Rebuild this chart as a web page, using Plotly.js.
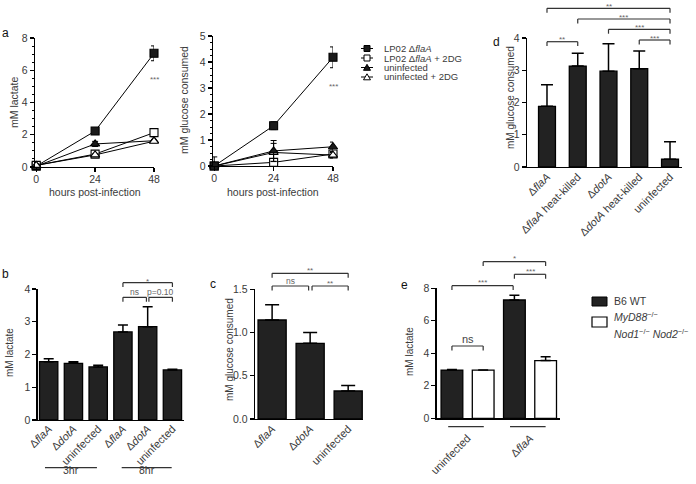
<!DOCTYPE html>
<html><head><meta charset="utf-8">
<script src="https://cdn.plot.ly/plotly-3.0.1.min.js"></script>
<style>body{margin:0;background:#fff}#chart{width:696px;height:484px}</style>
</head><body><div id="chart"></div>
<script>
const W = 696, H = 484;
const FONT = '"Liberation Sans", Arial, Helvetica, sans-serif';
const TXT = '#3a3a3a';

// ---------- Panel a data ----------
const hours = [0, 24, 48];
const hourTicks = [0, 24, 48];
const lacFla = [0.05, 2.23, 7.05];        const lacFlaErr = [0.05, 0.1, 0.46];
const lacFla2DG = [0.1, 0.8, 2.13];       const lacFla2DGErr = [0.1, 0.08, 0.25];
const lacUninf = [0.05, 1.43, 1.63];      const lacUninfErr = [0.05, 0.16, 0.06];
const lacUninf2DG = [0.1, 0.75, 1.6];     const lacUninf2DGErr = [0.1, 0.06, 0.06];
const gluFla = [0, 1.55, 4.18];           const gluFlaErr = [0.05, 0.15, 0.4];
const gluFla2DG = [0, 0.14, 0.46];        const gluFla2DGErr = [0.35, 0.08, 0.15];
const gluUninf = [0, 0.58, 0.74];         const gluUninfErr = [0.05, 0.4, 0.18];
const gluUninf2DG = [0, 0.52, 0.42];      const gluUninf2DGErr = [0.05, 0.35, 0.1];
const seriesNames = ['LP02 Δ<i>flaA</i>', 'LP02 Δ<i>flaA</i> + 2DG', 'uninfected', 'uninfected + 2DG'];

// ---------- Panel b data ----------
const bCats = ['flaA 3hr', 'dotA 3hr', 'uninfected 3hr', 'flaA 8hr', 'dotA 8hr', 'uninfected 8hr'];
const bLabels = ['Δ<i>flaA</i>', 'Δ<i>dotA</i>', 'uninfected', 'Δ<i>flaA</i>', 'Δ<i>dotA</i>', 'uninfected'];
const bVals = [1.78, 1.73, 1.62, 2.69, 2.85, 1.53];
const bErr = [0.09, 0.05, 0.05, 0.21, 0.61, 0.02];
const bGroups = ['3hr', '8hr'];

// ---------- Panel c data ----------
const cCats = ['flaA', 'dotA', 'uninfected'];
const cLabels = ['Δ<i>flaA</i>', 'Δ<i>dotA</i>', 'uninfected'];
const cVals = [1.145, 0.875, 0.324];
const cErr = [0.175, 0.125, 0.062];

// ---------- Panel d data ----------
const dCats = ['flaA', 'flaA hk', 'dotA', 'dotA hk', 'uninfected'];
const dLabels = ['Δ<i>flaA</i>', 'Δ<i>flaA</i> heat-killed', 'Δ<i>dotA</i>', 'Δ<i>dotA</i> heat-killed', 'uninfected'];
const dVals = [1.88, 3.13, 2.97, 3.05, 0.24];
const dErr = [0.67, 0.4, 0.85, 0.55, 0.54];

// ---------- Panel e data ----------
const eCats = ['uninfected', 'flaA'];
const eLabels = ['uninfected', 'Δ<i>flaA</i>'];
const eWT = [2.97, 7.28];   const eWTErr = [0.03, 0.29];
const eKO = [2.97, 3.55];   const eKOErr = [0.0, 0.24];
const eNames = ['B6 WT', '<i>MyD88</i><sup>−/−</sup>', '<i>Nod1</i><sup>−/−</sup> <i>Nod2</i><sup>−/−</sup>'];

// ---------- helpers ----------
const PX = x => x / W;
const PY = y => 1 - y / H;
const zeros = a => a.map(() => 0);

function axis(dpx, range, extra) {
  return Object.assign({
    domain: [PX(dpx[0]), PX(dpx[1])], range: range,
    showline: true, linecolor: '#000', linewidth: 1.3,
    ticks: 'outside', ticklen: 4, tickwidth: 1.3, tickcolor: '#000',
    showgrid: false, zeroline: false, fixedrange: true,
    tickfont: {family: FONT, size: 10.5, color: TXT}
  }, extra);
}
function yaxis(dpx, range, extra) {
  return Object.assign({
    domain: [PY(dpx[1]), PY(dpx[0])], range: range,
    showline: true, linecolor: '#000', linewidth: 1.3,
    ticks: 'outside', ticklen: 4, tickwidth: 1.3, tickcolor: '#000',
    showgrid: false, zeroline: false, fixedrange: true,
    tickfont: {family: FONT, size: 10.5, color: TXT}
  }, extra);
}
function lineTrace(xa, ya, y, err, sym, fill) {
  return {
    type: 'scatter', mode: 'lines+markers', x: hours, y: y, xaxis: xa, yaxis: ya,
    cliponaxis: false,
    line: {color: '#000', width: 1},
    marker: {symbol: sym, size: 8, color: fill, line: {color: '#000', width: 1.1}},
    error_y: {type: 'data', array: err, symmetric: true, color: '#000', thickness: 1, width: 3}
  };
}
function barTrace(xa, ya, cats, vals, err, width, cap, fill, offset) {
  const t = {
    type: 'bar', x: cats, y: vals, xaxis: xa, yaxis: ya, width: width,
    marker: {color: fill, line: {color: '#000', width: 1.3}},
    error_y: {type: 'data', array: err, arrayminus: zeros(err), symmetric: false,
              color: '#000', thickness: 1.5, width: cap}
  };
  if (offset !== undefined) t.offset = offset;
  return t;
}

const traces = [
  lineTrace('x', 'y', lacFla, lacFlaErr, 'square', '#1a1a1a'),
  lineTrace('x', 'y', lacFla2DG, lacFla2DGErr, 'square', '#fff'),
  lineTrace('x', 'y', lacUninf, lacUninfErr, 'triangle-up', '#1a1a1a'),
  lineTrace('x', 'y', lacUninf2DG, lacUninf2DGErr, 'triangle-up', '#fff'),
  lineTrace('x2', 'y2', gluFla2DG, gluFla2DGErr, 'square', '#fff'),
  lineTrace('x2', 'y2', gluUninf2DG, gluUninf2DGErr, 'triangle-up', '#fff'),
  lineTrace('x2', 'y2', gluUninf, gluUninfErr, 'triangle-up', '#1a1a1a'),
  lineTrace('x2', 'y2', gluFla, gluFlaErr, 'square', '#1a1a1a'),
  barTrace('x3', 'y3', dCats, dVals, dErr, 0.55, 6, '#222'),
  barTrace('x4', 'y4', bCats, bVals, bErr, 0.74, 5, '#222'),
  barTrace('x5', 'y5', cCats, cVals, cErr, 0.74, 7, '#222'),
  barTrace('x6', 'y6', eCats, eWT, eWTErr, 0.348, 5, '#222', -0.424),
  barTrace('x6', 'y6', eCats, eKO, eKOErr, 0.348, 5, '#fff', 0.076)
];

const catX = (cats, labels, range, dpx, standoff, fs) => axis(dpx, range, {
  type: 'category', ticks: '', ticklen: 0, tickangle: -45,
  tickmode: 'array', tickvals: cats, ticktext: labels,
  ticklabelstandoff: standoff,
  tickfont: {family: FONT, size: fs || 11, color: TXT}
});
const yfont = {family: FONT, size: 10.5, color: TXT};

const layout = {
  width: W, height: H, margin: {l: 0, r: 0, t: 0, b: 0},
  paper_bgcolor: '#fff', plot_bgcolor: 'rgba(0,0,0,0)',
  showlegend: false, barmode: 'group',
  font: {family: FONT, color: TXT},
  // a1
  xaxis: axis([35, 154], [-0.5, 48], {anchor: 'y', tickvals: hourTicks, ticklabelstandoff: -2}),
  yaxis: yaxis([38, 167], [0, 8], {anchor: 'x', dtick: 2,
    minor: {ticks: 'outside', ticklen: 2, dtick: 0.5, tickcolor: '#000', tickwidth: 1}}),
  // a2
  xaxis2: axis([213, 333], [-0.5, 48], {anchor: 'y2', tickvals: hourTicks, ticklabelstandoff: -2}),
  yaxis2: yaxis([36, 166], [0, 5], {anchor: 'x2', dtick: 1,
    minor: {ticks: 'outside', ticklen: 2, dtick: 0.25, tickcolor: '#000', tickwidth: 1}}),
  // d
  xaxis3: catX(dCats, dLabels, [-0.65, 4.39], [527, 682], -2, 11),
  yaxis3: yaxis([38, 167], [0, 4], {anchor: 'x3', dtick: 1, tickfont: yfont}),
  // b
  xaxis4: catX(bCats, bLabels, [-0.444, 5.48], [37.7, 184.3], -3, 11),
  yaxis4: yaxis([289, 420], [0, 4], {anchor: 'x4', dtick: 1, tickfont: yfont}),
  // c
  xaxis5: catX(cCats, cLabels, [-0.45, 2.39], [255, 363], -2, 11),
  yaxis5: yaxis([289.3, 419], [0, 1.5], {anchor: 'x5', dtick: 0.5, tickformat: '.1f', tickfont: yfont}),
  // e
  xaxis6: catX(eCats, eLabels, [-0.494, 1.48], [436.7, 560], 8, 11),
  yaxis6: yaxis([288.3, 418.3], [0, 8], {anchor: 'x6', dtick: 2, tickfont: yfont}),
  shapes: [], annotations: []
};
layout.xaxis3.anchor = 'y3'; layout.xaxis4.anchor = 'y4'; layout.xaxis5.anchor = 'y5'; layout.xaxis6.anchor = 'y6';

const S = layout.shapes, A = layout.annotations;
function text(x, y, t, opt) {
  A.push(Object.assign({xref: 'paper', yref: 'paper', x: PX(x), y: PY(y), text: t, showarrow: false,
    xanchor: 'center', yanchor: 'middle', font: {family: FONT, size: 10, color: TXT}}, opt || {}));
}
function bracket(xref, xa, xb, y, label, fs, labelY) {
  const ln = (x0, y0, x1, y1) => S.push({type: 'line', xref: xref, yref: 'paper', x0: x0, x1: x1,
    y0: PY(y0), y1: PY(y1), line: {color: '#333', width: 1.2}});
  ln(xa, y, xb, y); ln(xa, y, xa, y + 4.4); ln(xb, y, xb, y + 4.4);
  const isStar = label.indexOf('*') >= 0;
  A.push({xref: xref, yref: 'paper', x: (xa + xb) / 2, y: PY(labelY + (isStar ? 2.5 : 0)), text: label,
    showarrow: false, xanchor: 'center', yanchor: 'middle',
    font: {family: FONT, size: fs || 8, color: '#666'}});
}

// panel letters
const LET = {family: FONT, size: 12, color: '#111'};
text(5, 33, 'a', {font: LET});
text(496, 42, 'd', {font: LET});
text(5, 274, 'b', {font: LET});
text(213, 284, 'c', {font: LET});
text(404, 285, 'e', {font: LET});

// axis titles
const T1 = {family: FONT, size: 10.5, color: TXT};
const T2 = {family: FONT, size: 10, color: TXT};
text(14, 102, 'mM lactate', {textangle: -90, font: T1});
text(95, 192, 'hours post-infection', {font: T1});
text(184, 100, 'mM glucose consumed', {textangle: -90, font: T1});
text(273, 192, 'hours post-infection', {font: T1});
text(510, 98, 'mM glucose consumed', {textangle: -90, font: T2});
text(9, 353, 'mM lactate', {textangle: -90, font: T2});
text(229, 350, 'mM glucose consumed', {textangle: -90, font: T2});
text(409, 352, 'mM lactate', {textangle: -90, font: T2});

// significance on line plots
A.push({xref: 'x', yref: 'paper', x: 48, y: PY(73), text: '***', showarrow: false,
  font: {family: FONT, size: 8, color: '#666'}});
A.push({xref: 'x2', yref: 'paper', x: 48, y: PY(80), text: '***', showarrow: false,
  font: {family: FONT, size: 8, color: '#666'}});

// legend for panel a
const legRows = [48.5, 58, 67.5, 77];
const legSym = [['sq', '#1a1a1a'], ['sq', '#fff'], ['tri', '#1a1a1a'], ['tri', '#fff']];
legRows.forEach((yy, i) => {
  S.push({type: 'line', xref: 'paper', yref: 'paper', x0: PX(361), x1: PX(373), y0: PY(yy), y1: PY(yy),
    line: {color: '#000', width: 1}});
  if (legSym[i][0] === 'sq') {
    S.push({type: 'rect', xref: 'paper', yref: 'paper', x0: PX(364), x1: PX(370), y0: PY(yy + 3), y1: PY(yy - 3),
      fillcolor: legSym[i][1], line: {color: '#000', width: 1}});
  } else {
    S.push({type: 'path', xref: 'paper', yref: 'paper',
      path: `M ${PX(363.5)} ${PY(yy + 2.8)} L ${PX(370.5)} ${PY(yy + 2.8)} L ${PX(367)} ${PY(yy - 3.2)} Z`,
      fillcolor: legSym[i][1], line: {color: '#000', width: 1}});
  }
  text(382, yy, seriesNames[i], {xanchor: 'left', font: {family: FONT, size: 9.5, color: TXT}});
});

// legend for panel e
S.push({type: 'rect', xref: 'paper', yref: 'paper', x0: PX(592), x1: PX(607), y0: PY(306), y1: PY(297),
  fillcolor: '#222', line: {color: '#000', width: 1}});
S.push({type: 'rect', xref: 'paper', yref: 'paper', x0: PX(592), x1: PX(607), y0: PY(327), y1: PY(317),
  fillcolor: '#fff', line: {color: '#000', width: 1.2}});
text(612, 301, eNames[0], {xanchor: 'left', font: {family: FONT, size: 10.5, color: TXT}});
text(612, 316, eNames[1], {xanchor: 'left', font: {family: FONT, size: 10.5, color: TXT}});
text(612, 333, eNames[2], {xanchor: 'left', font: {family: FONT, size: 10.5, color: TXT}});

// brackets d
bracket('x3', 0, 4, 8.3, '**', 8, 4);
bracket('x3', 1, 4, 19, '***', 8, 15);
bracket('x3', 2, 4, 29.3, '***', 8, 25);
bracket('x3', 3, 4, 40, '***', 8, 36);
bracket('x3', 0, 1, 41.7, '**', 8, 37);
// brackets b
bracket('x4', 3, 5, 282.7, '*', 8, 279);
bracket('x4', 3, 3.95, 297.3, 'ns', 8.5, 292.3);
bracket('x4', 4.05, 5, 297.3, 'p=0.10', 8.5, 292.3);
// brackets c
bracket('x5', 0, 2, 273.3, '**', 8, 268);
bracket('x5', 0, 0.96, 286, 'ns', 8.5, 281);
bracket('x5', 1.05, 2, 286, '**', 8, 281);
// brackets e
bracket('x6', 0.25, 1.25, 261.7, '*', 8, 256);
bracket('x6', 0.75, 1.25, 274.3, '***', 8, 269);
bracket('x6', -0.25, 0.73, 285.7, '***', 8, 280);
bracket('x6', -0.25, 0.25, 346, 'ns', 11, 338.5);
A[A.length - 1].font.color = '#444';

// group lines
function groupLine(xref, xa, xb, y) {
  S.push({type: 'line', xref: xref, yref: 'paper', x0: xa, x1: xb, y0: PY(y), y1: PY(y),
    line: {color: '#333', width: 1.3}});
}
groupLine('x4', -0.15, 1.95, 467.7);
groupLine('x4', 2.95, 4.97, 467.7);
A.push({xref: 'x4', yref: 'paper', x: 0.9, y: PY(478), text: bGroups[0], showarrow: false,
  font: {family: FONT, size: 10.5, color: TXT}});
A.push({xref: 'x4', yref: 'paper', x: 3.96, y: PY(478), text: bGroups[1], showarrow: false,
  font: {family: FONT, size: 10.5, color: TXT}});
groupLine('x6', -0.31, 0.26, 426.7);
groupLine('x6', 0.68, 1.25, 426.7);

Plotly.newPlot('chart', traces, layout, {staticPlot: true, displayModeBar: false});
</script>
</body></html>
